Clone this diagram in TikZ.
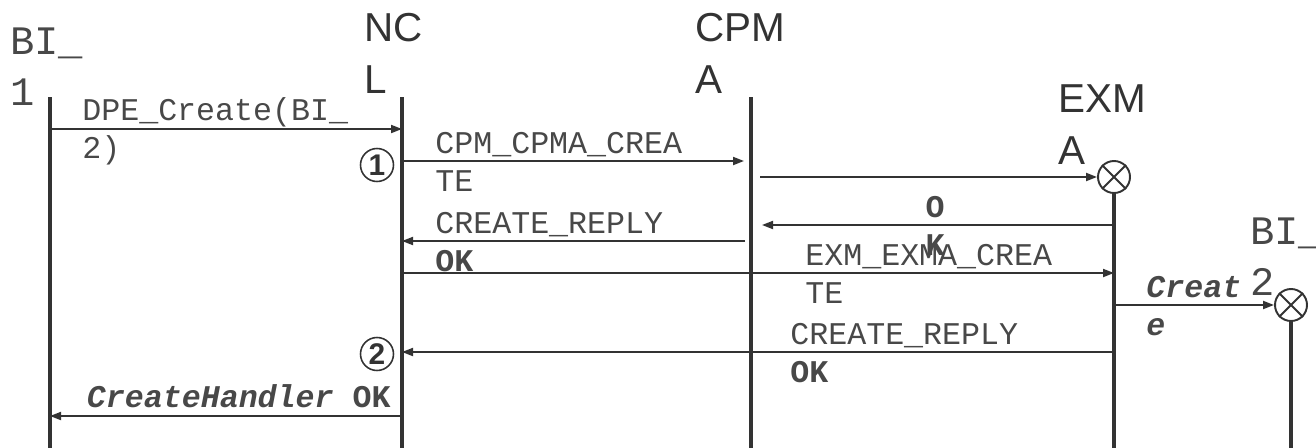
\documentclass[tikz,border=0pt]{standalone}
\usepackage{fontspec}
\setmainfont{Liberation Sans}
\setmonofont{Liberation Mono}
\usepackage{xcolor}
\usetikzlibrary{arrows.meta, positioning, calc}
\definecolor{linha}{RGB}{51, 51, 51}
\definecolor{texto}{RGB}{72, 72, 72}

\begin{document}
\begin{tikzpicture}[x=0.2mm, y=-0.2mm,
    head/.style={inner sep=0pt, anchor=north west, align=left, text=linha, font=\fontsize{23}{29.5}\selectfont},
    monohead/.style={inner sep=0pt, anchor=north west, align=left, text=texto, font=\ttfamily\fontsize{23}{29}\selectfont},
    msgtext/.style={inner sep=0pt, anchor=west, align=left, text=texto, font=\ttfamily\fontsize{18}{21.5}\selectfont},
    lifeline/.style={draw=linha, line width=2pt},
    msg/.style={draw=linha, line width=1.1pt, -{Triangle[length=2.2mm, width=1.6mm]}},
    created/.style={draw=linha, circle, line width=1.1pt, minimum size=6.4mm, inner sep=0pt},
    marker/.style={draw=linha, circle, line width=0.9pt, minimum size=6.6mm, inner sep=0pt, text=linha, font=\bfseries\fontsize{17}{17}\selectfont}
]
    \useasboundingbox (0,0) rectangle (1316,448);

    % Lifeline heads
    \node[monohead] (bi1) at (10,28) {BI\_\\1};
    \node[head] (ncl) at (364,13) {NC\\L};
    \node[head] (cpma) at (695,13) {CPM\\A};
    \node[head] (exma) at (1058,84) {EXM\\A};
    \node[monohead] (bi2) at (1250,218) {BI\_\\2};

    % Lifelines
    \coordinate (b1top) at (50,97);
    \coordinate (ncltop) at (402,97);
    \coordinate (cpmatop) at (751,97);
    \coordinate (base) at (0,448);
    \node[created] (exmax) at (1114,177) {};
    \node[created] (bi2x) at (1291,305) {};
    \foreach \c in {exmax, bi2x} {
        \draw[linha, line width=1.1pt] (\c.north west) -- (\c.south east) (\c.north east) -- (\c.south west);
    }
    \draw[lifeline] (b1top) -- (b1top |- base);
    \draw[lifeline] (ncltop) -- (ncltop |- base);
    \draw[lifeline] (cpmatop) -- (cpmatop |- base);
    \draw[lifeline] (exmax.south) -- (exmax |- base);
    \draw[lifeline] (bi2x.south) -- (bi2x |- base);

    % Messages
    \coordinate (m1) at (0,129);
    \coordinate (m2) at (0,161);
    \coordinate (m4) at (0,225);
    \coordinate (m5) at (0,241);
    \coordinate (m6) at (0,273);
    \coordinate (m8) at (0,352);
    \coordinate (m9) at (0,416);

    \draw[msg] (b1top |- m1) -- (ncltop |- m1);
    \draw[msg, shorten >=1.4mm] (ncltop |- m2) -- (cpmatop |- m2);
    \draw[msg, shorten <=1.8mm] (cpmatop |- exmax.west) -- (exmax.west);
    \draw[msg, shorten >=2.2mm] (exmax |- m4) -- (cpmatop |- m4);
    \draw[msg, shorten <=1.2mm] (cpmatop |- m5) -- (ncltop |- m5);
    \draw[msg] (ncltop |- m6) -- (exmax |- m6);
    \draw[msg] (exmax |- bi2x.west) -- (bi2x.west);
    \draw[msg] (exmax |- m8) -- (ncltop |- m8);
    \draw[msg] (ncltop |- m9) -- (b1top |- m9);

    % Message labels
    \node[msgtext] (t1) at (82,131) {DPE\_Create(BI\_\\2)};
    \node[msgtext] (t2) at (435,162) {CPM\_CPMA\_CREA\\TE};
    \node[msgtext, anchor=center, align=center, font=\ttfamily\bfseries\fontsize{18}{21.5}\selectfont] (t4) at (935,226) {O\\K};
    \node[msgtext] (t5) at (435,242) {CREATE\_REPLY\\\textbf{OK}};
    \node[msgtext] (t6) at (805,274) {EXM\_EXMA\_CREA\\TE};
    \node[msgtext, font=\ttfamily\bfseries\itshape\fontsize{18}{21.5}\selectfont] (t7) at (1146,306) {Creat\\e};
    \node[msgtext] (t8) at (790,353) {CREATE\_REPLY\\\textbf{OK}};
    \node[msgtext, anchor=base east] (t9) at (391,407) {\textbf{\textit{CreateHandler}} \textbf{OK}};

    % Markers
    \node[marker] (mk1) at (377,165) {1};
    \node[marker] (mk2) at (377,354) {2};
\end{tikzpicture}
\end{document}
